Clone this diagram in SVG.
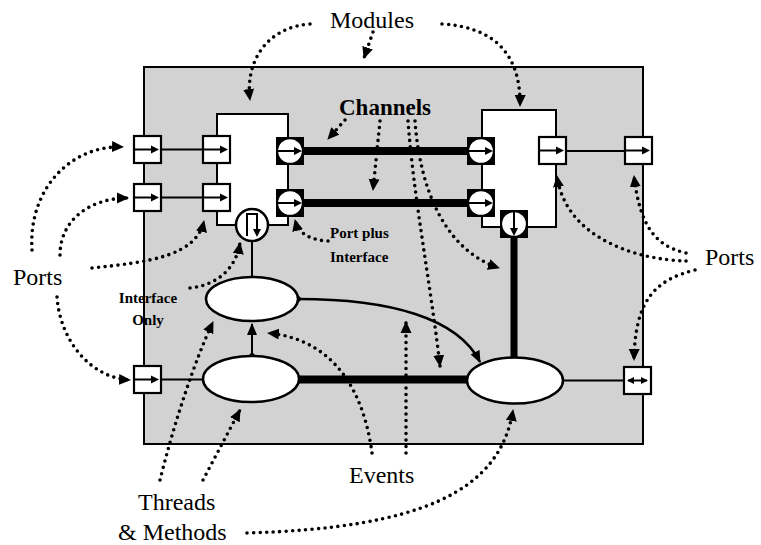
<svg xmlns="http://www.w3.org/2000/svg" xmlns:xlink="http://www.w3.org/1999/xlink" width="761" height="545" viewBox="0 0 761 545">
<style>
.dot{fill:none;stroke:#000;stroke-width:3.6;stroke-linecap:round;stroke-dasharray:0 6.5}
.thin{fill:none;stroke:#000;stroke-width:2}
.thick{fill:none;stroke:#000;stroke-width:8}
text{font-family:'Liberation Serif','DejaVu Serif',serif;fill:#000}
.lbl{font-size:24px}
.bl{font-weight:bold}
.node{fill:#fff;stroke:#000;stroke-width:2}
</style>
<defs>
<marker id="ah" markerUnits="userSpaceOnUse" markerWidth="12" markerHeight="12" refX="11" refY="6" orient="auto" viewBox="0 0 12 12">
<path d="M0,0.5 L12,6 L0,11.5 z" fill="#000"/>
</marker>
<marker id="sh" markerUnits="userSpaceOnUse" markerWidth="12" markerHeight="12" refX="11" refY="6" orient="auto" viewBox="0 0 12 12">
<path d="M0,1 L12,6 L0,11 z" fill="#000"/>
</marker>
<g id="port">
<rect x="0" y="0" width="27" height="27" fill="#fff" stroke="#000" stroke-width="2.2"/>
<line x1="0" y1="13.5" x2="19" y2="13.5" stroke="#000" stroke-width="2"/>
<polygon points="17,9.5 25,13.5 17,17.5" fill="#000"/>
</g>
<g id="cport">
<rect x="0" y="0" width="28" height="28" fill="#000"/>
<circle cx="14" cy="14" r="12.6" fill="#fff" stroke="#000" stroke-width="1.5"/>
<line x1="2" y1="14" x2="20" y2="14" stroke="#000" stroke-width="2"/>
<polygon points="18,10 26,14 18,18" fill="#000"/>
</g>
</defs>

<g id="system">
<rect x="144" y="67" width="499" height="377" fill="#d2d2d2" stroke="#000" stroke-width="2"/>
</g>

<g id="connectors">
<line class="thin" x1="162" y1="149.5" x2="203" y2="149.5"/>
<line class="thin" x1="162" y1="197.5" x2="203" y2="197.5"/>
<line class="thin" x1="566" y1="151" x2="625" y2="151"/>
<line class="thin" x1="161" y1="379.5" x2="203" y2="379.5"/>
<line class="thin" x1="563" y1="380.5" x2="624" y2="380.5"/>
<line class="thin" x1="252" y1="241" x2="252" y2="277"/>
<line class="thin" x1="252" y1="356" x2="252" y2="324" marker-end="url(#sh)"/>
<line class="thick" x1="303" y1="151" x2="467" y2="151"/>
<line class="thick" x1="303" y1="203" x2="467" y2="203"/>
<line class="thick" x1="298" y1="379.5" x2="468" y2="379.5"/>
<line x1="514" y1="238" x2="514" y2="357" stroke="#000" stroke-width="7"/>
<path d="M298,299 C 390,299 458,318 480,362" fill="none" stroke="#000" stroke-width="2.6" marker-end="url(#sh)"/>
<polygon points="298,295 302,299 298,303 294,299" fill="#000"/>
<polygon points="252,352 256,356 252,360 248,356" fill="#000"/>
<polygon points="514,353 518,357 514,361 510,357" fill="#000"/>
</g>

<g id="module1">
<rect class="node" x="217" y="114" width="71" height="111"/>
</g>
<g id="module2">
<rect class="node" x="482" y="110" width="74" height="117"/>
</g>

<g id="port-outer-l1"><use xlink:href="#port" x="134" y="136"/></g>
<g id="port-outer-l2"><use xlink:href="#port" x="134" y="184"/></g>
<g id="port-m1-l1"><use xlink:href="#port" x="203" y="136"/></g>
<g id="port-m1-l2"><use xlink:href="#port" x="203" y="184"/></g>
<g id="port-m1-r1"><use xlink:href="#cport" x="276" y="137"/></g>
<g id="port-m1-r2"><use xlink:href="#cport" x="276" y="189"/></g>
<g id="port-m2-l1"><use xlink:href="#cport" x="467" y="137"/></g>
<g id="port-m2-l2"><use xlink:href="#cport" x="467" y="189"/></g>
<g id="port-m2-bottom"><use xlink:href="#cport" transform="translate(528,210) rotate(90)"/></g>
<g id="port-m2-r1"><use xlink:href="#port" x="539" y="137"/></g>
<g id="port-outer-r1"><use xlink:href="#port" x="625" y="137"/></g>
<g id="port-outer-l3"><use xlink:href="#port" x="134" y="366"/></g>
<g id="port-outer-r3">
<rect x="624" y="367" width="27" height="27" fill="#fff" stroke="#000" stroke-width="2.2"/>
<line x1="628" y1="380.5" x2="647" y2="380.5" stroke="#000" stroke-width="2"/>
<polygon points="641,377 648,380.5 641,384" fill="#000"/>
<polygon points="634,377 627,380.5 634,384" fill="#000"/>
</g>

<g id="interface-m1">
<circle cx="252" cy="225" r="16" fill="#fff" stroke="#000" stroke-width="2.5"/>
<path d="M247,236 V214 H257 V230" fill="none" stroke="#000" stroke-width="2"/>
<polygon points="253,229 261,229 257,237" fill="#000"/>
</g>

<g id="thread1"><ellipse cx="252" cy="299" rx="46" ry="22" fill="#fff" stroke="#000" stroke-width="2.5"/></g>
<g id="thread2"><ellipse cx="251" cy="379" rx="48" ry="23" fill="#fff" stroke="#000" stroke-width="2.5"/></g>
<g id="thread3"><ellipse cx="515" cy="380.5" rx="48" ry="23" fill="#fff" stroke="#000" stroke-width="2.5"/></g>

<g id="annotations">
<path class="dot" d="M310,24 C 268,27 245,60 250,100" marker-end="url(#ah)"/>
<path class="dot" d="M373,32 L 364,58" marker-end="url(#ah)"/>
<path class="dot" d="M442,24 C 492,27 521,52 520,106" marker-end="url(#ah)"/>
<path class="dot" d="M345,120 L 328,139" marker-end="url(#ah)"/>
<path class="dot" d="M380,121 L 373,190" marker-end="url(#ah)"/>
<path class="dot" d="M408,121 C 414,200 430,280 440,366" marker-end="url(#ah)"/>
<path class="dot" d="M415,121 C 420,190 445,250 499,268" marker-end="url(#ah)"/>
<path class="dot" d="M328,241 C 308,240 298,232 295,220" marker-end="url(#ah)"/>
<path class="dot" d="M190,288 C 218,285 236,268 240,243" marker-end="url(#ah)"/>
<path class="dot" d="M32,250 C 28,190 70,145 123,147" marker-end="url(#ah)"/>
<path class="dot" d="M60,255 C 60,220 90,198 128,198" marker-end="url(#ah)"/>
<path class="dot" d="M92,268 C 150,262 196,256 204,221" marker-end="url(#ah)"/>
<path class="dot" d="M57,297 C 60,340 90,378 130,380" marker-end="url(#ah)"/>
<path class="dot" d="M686,261 C 640,260 566,240 557,176" marker-end="url(#ah)"/>
<path class="dot" d="M686,253 C 655,246 640,226 634,176" marker-end="url(#ah)"/>
<path class="dot" d="M695,270 C 655,280 635,300 634,360" marker-end="url(#ah)"/>
<path class="dot" d="M372,453 C 365,400 340,340 268,333" marker-end="url(#ah)"/>
<path class="dot" d="M406,453 L 406,322" marker-end="url(#ah)"/>
<path class="dot" d="M160,480 C 175,420 195,360 213,322" marker-end="url(#ah)"/>
<path class="dot" d="M203,480 L 240,410" marker-end="url(#ah)"/>
<path class="dot" d="M247,533 C 420,528 500,492 513,410" marker-end="url(#ah)"/>
</g>

<g id="labels">
<text class="lbl" x="330" y="28" font-family="Liberation Serif, serif">Modules</text>
<text class="bl" x="339" y="115" font-size="23" font-family="Liberation Serif, serif">Channels</text>
<text class="bl" x="330" y="238" font-size="15" font-family="Liberation Serif, serif">Port plus</text>
<text class="bl" x="330" y="262" font-size="15" font-family="Liberation Serif, serif">Interface</text>
<text class="bl" x="148" y="303" font-size="15" text-anchor="middle" font-family="Liberation Serif, serif">Interface</text>
<text class="bl" x="148" y="325" font-size="15" text-anchor="middle" font-family="Liberation Serif, serif">Only</text>
<text class="lbl" x="13" y="285" font-family="Liberation Serif, serif">Ports</text>
<text class="lbl" x="705" y="265" font-family="Liberation Serif, serif">Ports</text>
<text class="lbl" x="349" y="483" font-family="Liberation Serif, serif">Events</text>
<text class="lbl" x="138" y="510" font-family="Liberation Serif, serif">Threads</text>
<text class="lbl" x="118" y="540" font-family="Liberation Serif, serif">&amp; Methods</text>
</g>
</svg>
